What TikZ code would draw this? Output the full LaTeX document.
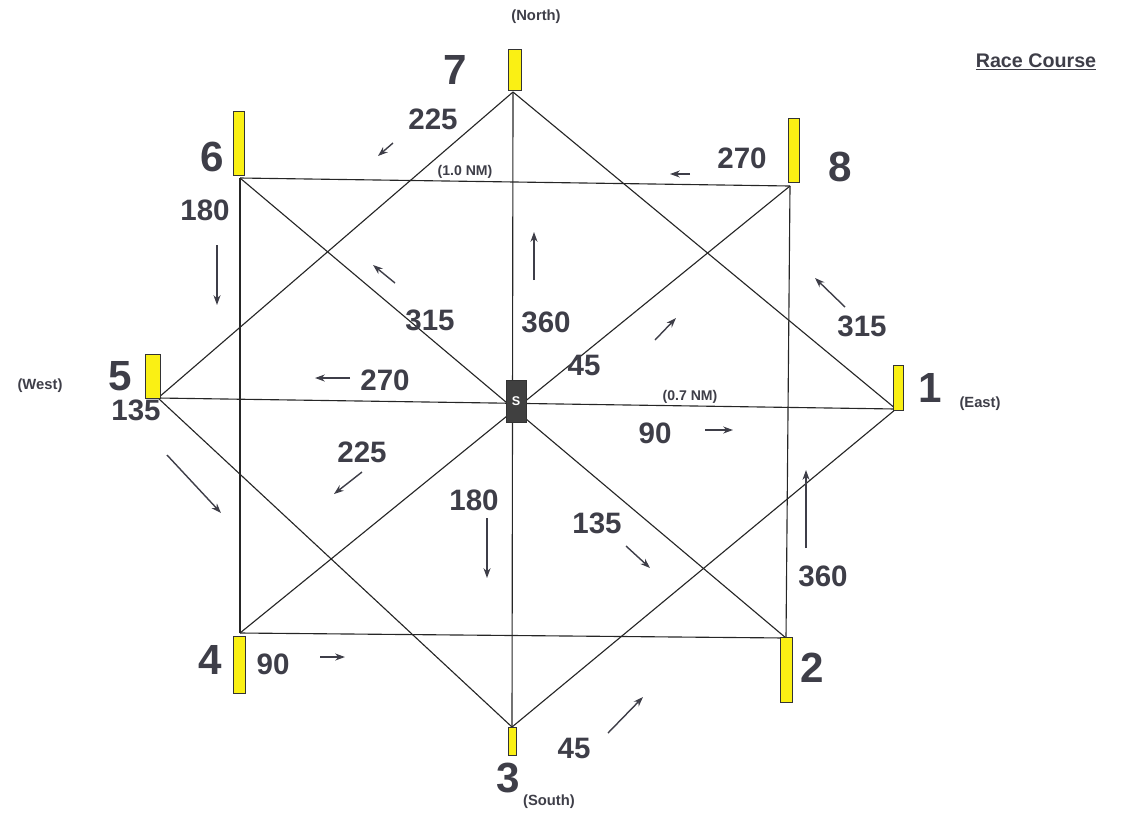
\documentclass[tikz,border=0pt]{standalone}
\usepackage{fontspec}
\setmainfont{Liberation Sans}
\usepackage{tikz}
\usetikzlibrary{positioning, calc, arrows.meta}

\definecolor{ink}{RGB}{62,62,72}
\definecolor{buoy}{RGB}{250,240,20}

\begin{document}
\begin{tikzpicture}[x=0.025cm, y=-0.025cm,
  leg/.style={draw=black!85, line width=0.8pt},
  markbox/.style={draw=black!80, fill=buoy, line width=0.7pt, inner sep=0pt},
  startbox/.style={draw=black!80, fill=black!75, text=white, inner sep=0pt, minimum width=20*0.025cm, minimum height=42*0.025cm, font=\bfseries\fontsize{9}{9}\selectfont},
  marknum/.style={text=ink, font=\bfseries\fontsize{30}{30}\selectfont, inner sep=0pt},
  heading/.style={text=ink, font=\bfseries\fontsize{21}{21}\selectfont, inner sep=0pt},
  compass/.style={text=ink, font=\bfseries\fontsize{10.5}{10.5}\selectfont, inner sep=0pt},
  dist/.style={text=ink, font=\bfseries\fontsize{10}{10}\selectfont, inner sep=0pt},
  dir/.style={draw=ink, line width=1pt, -{Stealth[length=7pt, width=5pt]}}]

  \useasboundingbox (0,0) rectangle (1142,818);

  % course points
  \coordinate (p7) at (513,92);
  \coordinate (p8) at (790,186);
  \coordinate (p6) at (240,178);
  \coordinate (p5) at (158,398);
  \coordinate (p1) at (896,409);
  \coordinate (p4) at (240,633);
  \coordinate (p2) at (786,638);
  \coordinate (p3) at (512,727);

  % legs
  \draw[leg] (p7) -- (p3);
  \draw[leg] (p5) -- (p1);
  \draw[leg] (p6) -- (p2);
  \draw[leg] (p8) -- (p4);
  \draw[leg] (p6) -- (p8);
  \draw[leg] (p6) -- (p4);
  \draw[leg] (p4) -- (p2);
  \draw[leg] (p8) -- (p2);
  \draw[leg] (p7) -- (p5);
  \draw[leg] (p7) -- (p1);
  \draw[leg] (p5) -- (p3);
  \draw[leg] (p3) -- (p1);

  % start box
  \node[startbox] (s) at (516,401) {S};

  % marks
  \node[markbox, minimum width=13*0.025cm, minimum height=41*0.025cm] (m7) at (514.5,69.5) {};
  \node[markbox, minimum width=11*0.025cm, minimum height=64*0.025cm] (m8) at (793.5,150) {};
  \node[markbox, minimum width=11*0.025cm, minimum height=64*0.025cm] (m6) at (238.5,143) {};
  \node[markbox, minimum width=15*0.025cm, minimum height=44*0.025cm] (m5) at (152.5,376) {};
  \node[markbox, minimum width=10*0.025cm, minimum height=45*0.025cm] (m1) at (898,387.5) {};
  \node[markbox, minimum width=12*0.025cm, minimum height=57*0.025cm] (m4) at (239,664.5) {};
  \node[markbox, minimum width=12*0.025cm, minimum height=65*0.025cm] (m2) at (786,670) {};
  \node[markbox, minimum width=8*0.025cm, minimum height=28*0.025cm] (m3) at (512,741) {};

  % mark numbers
  \node[marknum] (n7) at (455,70) {7};
  \node[marknum] (n8) at (840,167) {8};
  \node[marknum] (n6) at (212,157) {6};
  \node[marknum] (n5) at (120,376) {5};
  \node[marknum] (n1) at (930,388) {1};
  \node[marknum] (n4) at (210,660) {4};
  \node[marknum] (n2) at (812,668) {2};
  \node[marknum] (n3) at (508,778) {3};

  % compass points
  \node[compass] (north) at (536,17) {(North)};
  \node[compass] (south) at (549,802) {(South)};
  \node[compass] (west) at (40,386) {(West)};
  \node[compass] (east) at (980,404) {(East)};

  % title
  \node[text=ink, font=\bfseries\fontsize{14}{14}\selectfont, inner sep=1pt] (title) at (1036,62) {\underline{Race Course}};

  % distances
  \node[dist] (d1) at (465,172) {(1.0 NM)};
  \node[dist] (d2) at (690,397) {(0.7 NM)};

  % headings
  \node[heading] (h225a) at (433,119) {225};
  \node[heading] (h270a) at (742,158) {270};
  \node[heading] (h180a) at (205,210) {180};
  \node[heading] (h315a) at (430,320) {315};
  \node[heading] (h360a) at (546,322) {360};
  \node[heading] (h45a) at (584,365) {45};
  \node[heading] (h315b) at (862,326) {315};
  \node[heading] (h270b) at (385,380) {270};
  \node[heading] (h90a) at (655,433) {90};
  \node[heading] (h135a) at (136,410) {135};
  \node[heading] (h225b) at (362,452) {225};
  \node[heading] (h180b) at (474,500) {180};
  \node[heading] (h135b) at (597,523) {135};
  \node[heading] (h360b) at (823,576) {360};
  \node[heading] (h90b) at (273,664) {90};
  \node[heading] (h45b) at (574,748) {45};

  % direction arrows
  \draw[dir] (393,143) -- (378,156);
  \draw[dir] (690,174) -- (670,174);
  \draw[dir] (217,245) -- (217,305);
  \draw[dir] (395,283) -- (373,265);
  \draw[dir] (534,280) -- (534,232);
  \draw[dir] (655,340) -- (676,318);
  \draw[dir] (845,307) -- (815,278);
  \draw[dir] (350,378) -- (315,378);
  \draw[dir] (705,430) -- (733,430);
  \draw[dir] (167,455) -- (221,513);
  \draw[dir] (362,472) -- (334,494);
  \draw[dir] (487,518) -- (487,578);
  \draw[dir] (626,546) -- (650,568);
  \draw[dir] (806,548) -- (806,470);
  \draw[dir] (320,657) -- (345,657);
  \draw[dir] (608,733) -- (643,697);
\end{tikzpicture}
\end{document}
